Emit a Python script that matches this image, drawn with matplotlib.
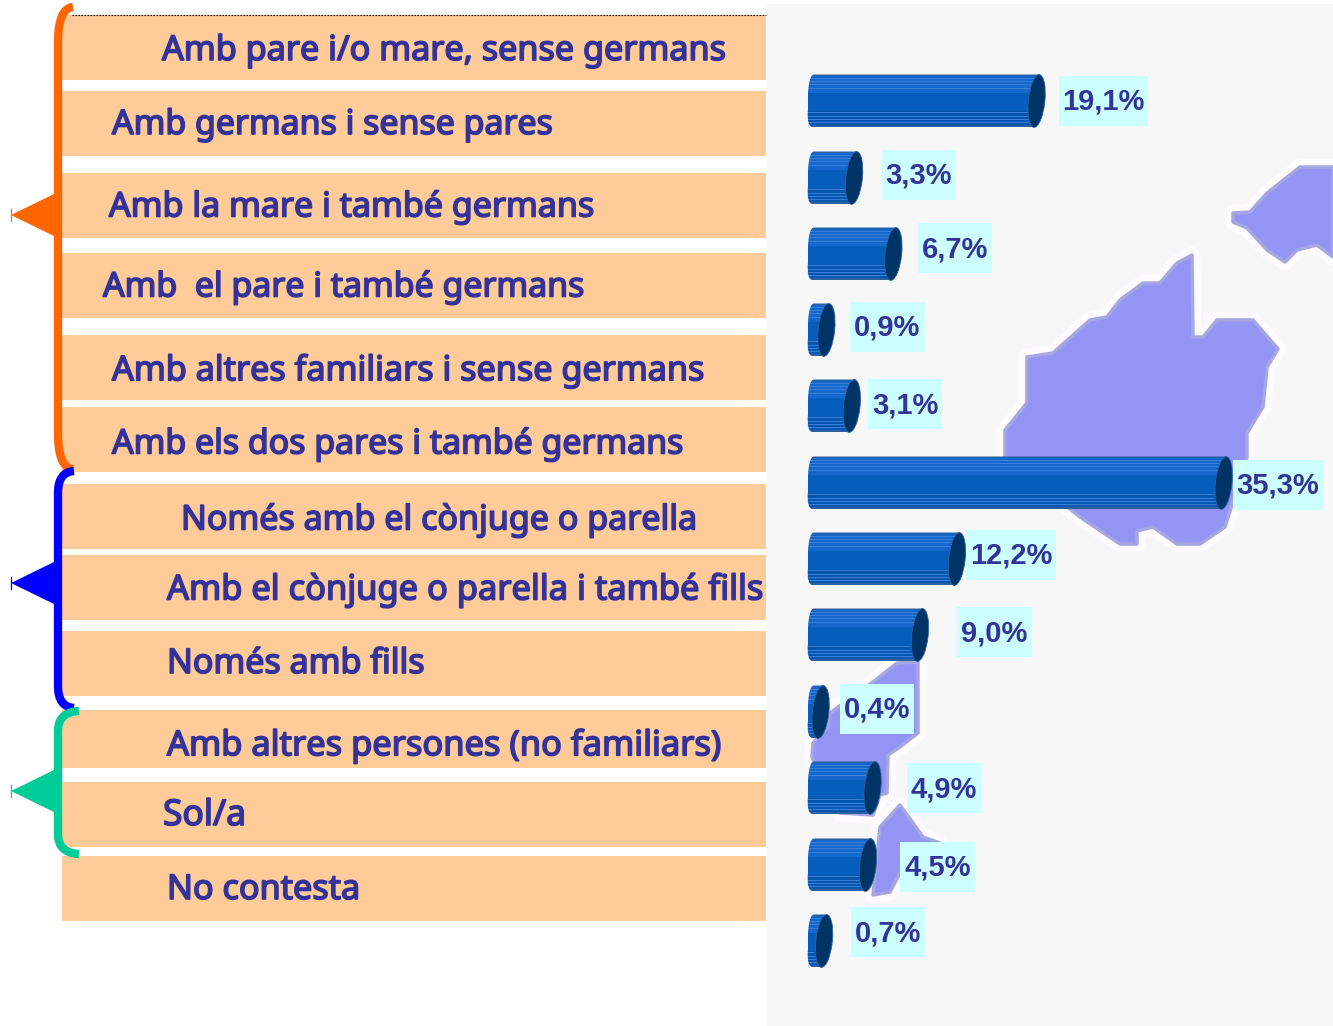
import matplotlib
matplotlib.use("Agg")
import matplotlib.pyplot as plt
import matplotlib.patheffects as pe
from matplotlib.patches import Rectangle, Ellipse, Polygon, PathPatch
from matplotlib.path import Path
from matplotlib.colors import ListedColormap
import numpy as np

W, H = 1333, 1026
categories = ["Amb pare i/o mare, sense germans", "Amb germans i sense pares",
              "Amb la mare i també germans", "Amb  el pare i també germans",
              "Amb altres familiars i sense germans", "Amb els dos pares i també germans",
              "Només amb el cònjuge o parella", "Amb el cònjuge o parella i també fills",
              "Només amb fills", "Amb altres persones (no familiars)", "Sol/a", "No contesta"]
values = [19.1, 3.3, 6.7, 0.9, 3.1, 35.3, 12.2, 9.0, 0.4, 4.9, 4.5, 0.7]
value_labels = ["19,1%", "3,3%", "6,7%", "0,9%", "3,1%", "35,3%", "12,2%", "9,0%", "0,4%", "4,9%", "4,5%", "0,7%"]

# layout in pixels
row_top = [15, 91, 173, 253, 335, 407, 484, 555, 631, 710, 782, 856]
row_bot = [80, 156, 238, 318, 400, 472, 549, 620, 696, 768, 847, 921]
text_x = [162, 112, 109, 103, 112, 112, 181, 167, 167, 167, 163, 167]
text_y = [47, 121, 203, 283, 367, 440, 516, 586, 660, 742, 812, 886]
text_size = [24.6, 24.4, 24.5, 24.4, 24.6, 24.4, 24.5, 24.8, 24.5, 24.8, 25.5, 24.6]
bar_y = [101, 178, 254, 330, 406, 483, 559, 635, 712, 788, 865, 941]
lab_box = [(1059, 1148), (882, 956), (918, 992), (850, 925), (868, 942), (1233, 1323),
           (966, 1056), (957, 1032), (840, 914), (907, 981), (900, 975), (851, 925)]
lab_y = [101, 175, 248, 327, 404, 485, 555, 632, 709, 788, 867, 932]

PEACH, NAVY = "#FFCC99", "#333399"

fig = plt.figure(figsize=(W / 100, H / 100), dpi=100, facecolor="white")
ax = fig.add_axes([0, 0, 1, 1])
ax.set_xlim(0, W); ax.set_ylim(H, 0); ax.axis("off")

# background panel and map
ax.add_patch(Rectangle((767, 4), W - 767, H - 4, fc="#F7F7F7", ec="none", zorder=0))
island1 = [(1333, 167), (1300, 167), (1267, 193), (1250, 212), (1233, 213), (1233, 222), (1247, 228),
           (1267, 250), (1285, 262), (1297, 250), (1317, 245), (1333, 257)]
island2 = [(1192, 255), (1193, 337), (1203, 337), (1217, 320), (1253, 320), (1278, 349), (1267, 367),
           (1263, 407), (1247, 433), (1247, 457), (1225, 527), (1200, 544), (1177, 544), (1153, 527),
           (1137, 531), (1137, 544), (1120, 544), (1080, 517), (1005, 457), (1005, 430), (1027, 403),
           (1027, 357), (1053, 353), (1090, 320), (1107, 317), (1120, 300), (1143, 283), (1160, 283), (1177, 263)]
island3 = [(918, 662), (918, 733), (900, 747), (888, 755), (887, 793), (880, 795), (873, 815), (840, 813),
           (812, 757), (813, 743), (828, 727), (830, 713), (873, 682), (897, 663)]
island4 = [(900, 805), (923, 837), (940, 843), (900, 873), (890, 892), (873, 895), (880, 827)]
for p in (island1, island2, island3, island4):
    ax.add_patch(Polygon(p, closed=True, fc="#FDFBFF", ec="#FDFBFF", lw=12, joinstyle="round", zorder=0.5))
    ax.add_patch(Polygon(p, closed=True, fc="#9494F4", ec="#A6A6E2", lw=2.5, joinstyle="round", zorder=1))

# rows
for top, bot, txt, tx, ty, fs in zip(row_top, row_bot, categories, text_x, text_y, text_size):
    ax.add_patch(Rectangle((62, top), 766 - 62, bot - top, fc=PEACH, ec="none", zorder=2))
    ax.text(tx, ty, txt, family="Noto Sans", fontsize=fs, color=NAVY, va="center_baseline", ha="left", zorder=5,
            path_effects=[pe.withStroke(linewidth=1.2, foreground=NAVY)])
ax.plot([72, 766], [14.5, 14.5], color="black", lw=0.8, ls=(0, (1.5, 1.2)), zorder=3)

# brackets
def bracket(y0, y1, ytip, color, xend, r):
    x = 58
    verts = [(xend, y0), (x, y0 + 1), (x, y0 + r), (x, y1 - r), (x, y1 - 1), (xend, y1)]
    codes = [Path.MOVETO, Path.CURVE3, Path.CURVE3, Path.LINETO, Path.CURVE3, Path.CURVE3]
    ax.add_patch(PathPatch(Path(verts, codes), fc="none", ec=color, lw=6, capstyle="butt", zorder=4))
    ax.add_patch(Polygon([(11, ytip), (56, ytip - 22), (56, ytip + 22)], closed=True, fc=color, ec="none", zorder=4))
    ax.plot([11, 11], [ytip - 6, ytip + 6], color=color, lw=0.9, zorder=4)

bracket(7, 469, 215, "#FF6600", 73, 36)
bracket(471, 708, 583, "#0000FF", 74, 22)
bracket(711, 854, 791, "#00CC99", 79, 20)

# cylinders, drawn from the values
PX_PER = 11.55
X0 = 816
HALF_H = 26.5
rows = []
for i in range(53):
    t = i / 52
    c0 = np.array([0x14, 0x68, 0xCC]) if t < 0.5 else np.array([0x04, 0x56, 0xAE])
    if 0.35 < t < 0.7:
        c0 = np.array([0x06, 0x5E, 0xBC])
    if i in (0, 1, 51, 52):
        c0 = np.array([0x2A, 0x60, 0xA0])
    if i in (4, 7, 10, 14, 38, 42, 45, 48):
        c0 = np.array([0x3A, 0x80, 0xD8])
    rows.append(c0 / 255)
cyl = ListedColormap(rows)
grad = np.arange(53).reshape(-1, 1)
for v, y, (bl, br), ly, s in zip(values, bar_y, lab_box, lab_y, value_labels):
    x1 = X0 + PX_PER * v
    body = Path([(X0 - 2, y - HALF_H), (x1 + 3, y - HALF_H), (x1 - 3, y + HALF_H), (X0 - 2, y + HALF_H),
                 (X0 - 10, y + HALF_H), (X0 - 8, y + 8), (X0 - 8, y), (X0 - 8, y - 8), (X0 - 7, y - HALF_H), (X0 - 2, y - HALF_H)],
                [Path.MOVETO, Path.LINETO, Path.LINETO, Path.LINETO,
                 Path.CURVE3, Path.CURVE3, Path.CURVE3, Path.CURVE3, Path.CURVE3, Path.CURVE3])
    patch = PathPatch(body, fc="none", ec="none", zorder=6)
    ax.add_patch(patch)
    im = ax.imshow(grad, cmap=cyl, extent=(X0 - 9, x1 + 4, y + HALF_H, y - HALF_H), aspect="auto",
                   interpolation="nearest", zorder=6)
    im.set_clip_path(patch)
    ax.add_patch(Ellipse((x1, y), 16.5, 2 * HALF_H, angle=6, fc="#003366", ec="#2A62A0", lw=0.6, zorder=7))
    ax.add_patch(Rectangle((bl, ly - 25), br - bl, 50, fc="#CCFFFF", ec="none", zorder=8))
    ax.text((bl + br) / 2, ly + 1, s, family="Liberation Sans", weight="bold", fontsize=21, color=NAVY,
            ha="center", va="center", zorder=9)
ax.set_xlim(0, W); ax.set_ylim(H, 0)
fig.savefig("out.png", dpi=100)
